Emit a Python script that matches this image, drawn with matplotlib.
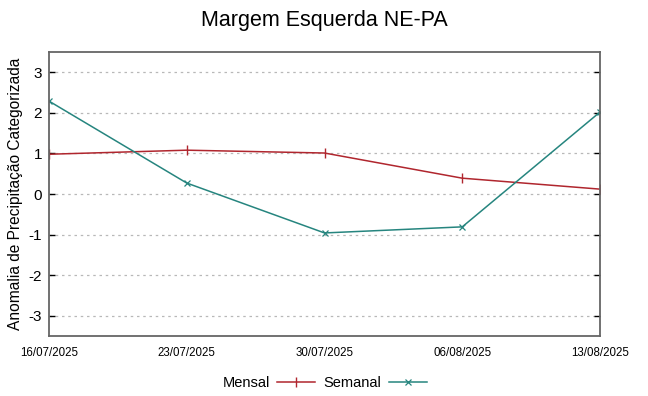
import matplotlib.pyplot as plt
import pandas as pd

plt.rcParams['font.family'] = ['Liberation Sans', 'DejaVu Sans']
plt.rcParams['axes.unicode_minus'] = False

# Data
datas = ["16/07/2025", "23/07/2025", "30/07/2025", "06/08/2025", "13/08/2025"]
mensal = [0.98, 1.08, 1.01, 0.39, 0.12]
semanal = [2.29, 0.27, -0.96, -0.81, 2.02]
y_ticks = [-3, -2, -1, 0, 1, 2, 3]

x = pd.to_datetime(datas, format="%d/%m/%Y")

fig = plt.figure(figsize=(6.48, 3.96), dpi=100)
ax = fig.add_axes([49 / 648, 60 / 396, 551 / 648, 284 / 396])

ax.plot(x, mensal, color="#b0262e", lw=1.1, marker="|", ms=7, mew=1.0, label="Mensal")
ax.plot(x, semanal, color="#26857f", lw=1.1, marker="x", ms=5, mew=0.9, label="Semanal")

ax.set_xlim(x[0], x[-1])
ax.set_ylim(-3.5, 3.5)
ax.set_yticks(y_ticks)
ax.set_xticks(x)
ax.set_xticklabels(datas, fontsize=8.3)
ax.tick_params(axis='y', labelsize=11, direction='in', right=True, length=4, width=1, pad=5)
ax.tick_params(axis='x', length=0, pad=8)
ax.grid(axis='y', linestyle=(0, (2, 3)), color='#b8b8b8', lw=0.9)

for s in ax.spines.values():
    s.set_color('#666666')
    s.set_linewidth(1.3)

ax.set_ylabel("Anomalia de Precipitação Categorizada", fontsize=11.2, labelpad=4)
fig.suptitle("Margem Esquerda NE-PA", fontsize=15.5, y=0.975)

ax.legend(loc='center', bbox_to_anchor=(0.5, -0.165), ncol=2, frameon=False,
          markerfirst=False, fontsize=10.5, handlelength=2.6, columnspacing=0.6,
          handletextpad=0.5)

fig.savefig("out.png", dpi=100)
